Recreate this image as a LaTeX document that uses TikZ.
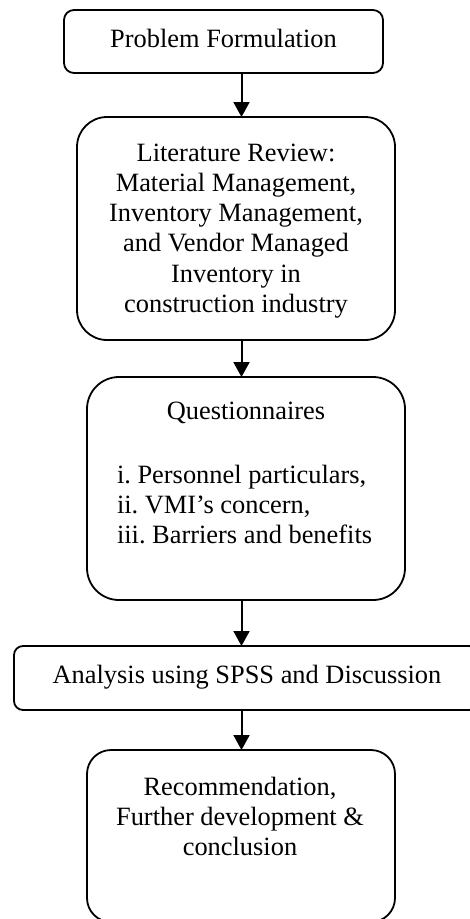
\documentclass[tikz,border=0pt]{standalone}
\usepackage{fontspec}
\setmainfont{Liberation Serif}
\usetikzlibrary{arrows.meta}
\frenchspacing
\begin{document}
\begin{tikzpicture}[x=1pt,y=-1pt,
  boxsty/.style={draw=black, line width=1.8pt, inner sep=0pt, outer sep=0pt},
  txt/.style={anchor=base, inner sep=0pt, outer sep=0pt, font=\fontsize{26.4}{30.3}\selectfont},
  ltxt/.style={anchor=base west, inner sep=0pt, outer sep=0pt, font=\fontsize{26.4}{30.3}\selectfont},
  arr/.style={line width=2pt, -{Triangle[length=15pt,width=16pt]}}]
\fill[white] (0,0) rectangle (470,919);
\useasboundingbox (0,0) rectangle (470,919);
\clip (0,0) rectangle (470,919);

% boxes
\node[boxsty, minimum width=319pt, minimum height=63pt, rounded corners=10pt] (b1) at (223.5,41.5) {};
\node[boxsty, minimum width=318pt, minimum height=223pt, rounded corners=30pt] (b2) at (236,228.5) {};
\node[boxsty, minimum width=318pt, minimum height=223pt, rounded corners=32pt] (b3) at (246,488.5) {};
\node[boxsty, minimum width=464pt, minimum height=64pt, rounded corners=9pt] (b4) at (246,678) {};
\node[boxsty, minimum width=308pt, minimum height=172pt, rounded corners=24pt] (b5) at (241,836) {};

% texts
\node[txt] (t1) at (223.5,47) {Problem Formulation};

\node[txt] (t2a) at (236,161) {Literature Review:};
\node[txt] (t2b) at (236,191.3) {Material Management,};
\node[txt] (t2c) at (236,221.6) {Inventory Management,};
\node[txt] (t2d) at (236,251.9) {and Vendor Managed};
\node[txt] (t2e) at (236,282.2) {Inventory in};
\node[txt] (t2f) at (236,312.5) {construction industry};

\node[txt] (t3a) at (246,419) {Questionnaires};
\node[ltxt] (t3b) at (117,483) {i. Personnel particulars,};
\node[ltxt] (t3c) at (117,513) {ii. VMI’s concern,};
\node[ltxt] (t3d) at (117,543) {iii. Barriers and benefits};

\node[txt] (t4) at (247,683.5) {Analysis using SPSS and Discussion};

\node[txt] (t5a) at (240,795) {Recommendation,};
\node[txt] (t5b) at (240,825) {Further development \&};
\node[txt] (t5c) at (240,855) {conclusion};

% connectors
\coordinate (ax) at (241.5,0);
\draw[arr] (b1.south -| ax) -- (b2.north -| ax);
\draw[arr] (b2.south -| ax) -- (b3.north -| ax);
\draw[arr] (b3.south -| ax) -- (b4.north -| ax);
\draw[arr] (b4.south -| ax) -- (b5.north -| ax);
\end{tikzpicture}
\end{document}
